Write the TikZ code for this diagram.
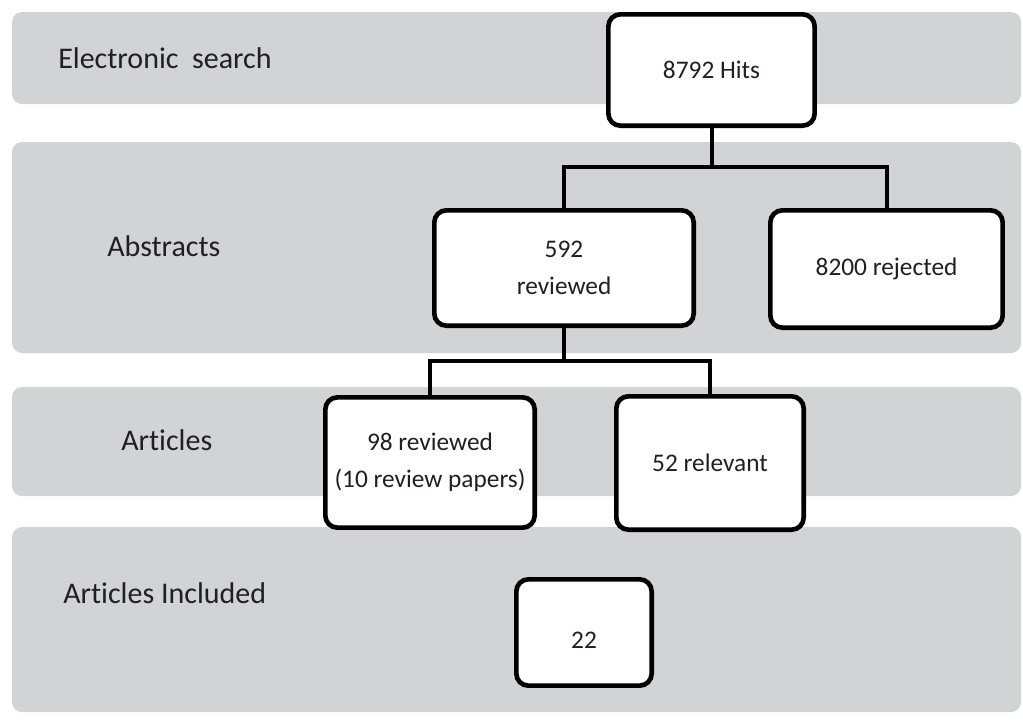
\documentclass[tikz,border=0pt]{standalone}
\usepackage{fontspec}
\setmainfont[Ligatures=NoCommon]{Carlito}
\usepackage{xcolor}
\usepackage{tikz}
\usetikzlibrary{positioning}
\definecolor{bandgray}{RGB}{209, 211, 212}
\definecolor{inkdark}{RGB}{35, 31, 32}

\begin{document}
\begin{tikzpicture}[
    x=0.75pt, y=-0.75pt,
    band/.style={fill=bandgray, rounded corners=7.5pt},
    tag/.style={anchor=base west, inner sep=0pt, text=inkdark, font=\fontsize{22.5}{27}\selectfont},
    box/.style={rectangle, draw=black, line width=3.5pt, rounded corners=9pt, fill=white, align=center, inner sep=0pt, text=inkdark, font=\fontsize{19}{28}\selectfont},
    link/.style={draw=black, line width=3pt}
]
    \useasboundingbox (0,0) rectangle (1023,722);

    % stage bands
    \fill[band] (12,12) rectangle (1021,104);
    \fill[band] (12,142) rectangle (1021,353);
    \fill[band] (12,387) rectangle (1021,496);
    \fill[band] (12,527) rectangle (1021,712);

    \node[tag] (lsearch) at (58,68) {Electronic\ \ search};
    \node[tag] (labs) at (107,256) {Abstracts};
    \node[tag] (lart) at (121,450) {Articles};
    \node[tag] (lincl) at (63,603) {Articles Included};

    % boxes
    \node[box, minimum width=154.7pt, minimum height=83.5pt] (hits) at (711.5,70) {8792 Hits};
    \node[box, minimum width=194.5pt, minimum height=86.5pt] (abs) at (564,268) {592\\reviewed};
    \node[box, minimum width=174.2pt, minimum height=88pt] (rej) at (886.5,269) {8200 rejected};
    \node[box, minimum width=157pt, minimum height=97.7pt] (art) at (430,462.5) {98 reviewed\\(10 review papers)};
    \node[box, minimum width=140.5pt, minimum height=100pt] (rel) at (710,463) {52 relevant};
    \node[box, minimum width=101.5pt, minimum height=79.7pt] (incl) at (584,632.5) {\raisebox{-12pt}[0pt][0pt]{22}};

    % connectors
    \coordinate (fork1) at (711.5,167);
    \coordinate (fork2) at (564,361);
    \draw[link] (hits) -- (fork1);
    \draw[link] (abs.north) |- (fork1) -| (rej.north);
    \draw[link] (abs) -- (fork2);
    \draw[link] (art.north) |- (fork2) -| (rel.north);
\end{tikzpicture}
\end{document}
